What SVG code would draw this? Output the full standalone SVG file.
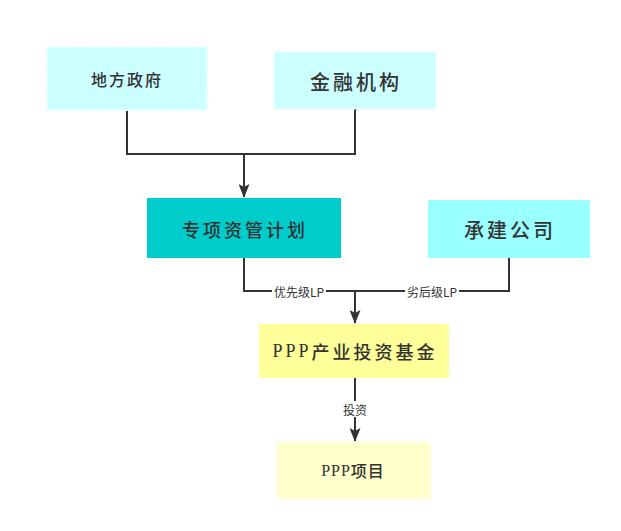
<svg xmlns="http://www.w3.org/2000/svg" width="621" height="531" viewBox="0 0 621 531">
<style>
.lbl{font-family:"Noto Sans CJK SC","Liberation Sans",sans-serif;font-weight:500;fill:#333;text-anchor:middle;dominant-baseline:central}
.ppp{font-family:"Liberation Serif","Noto Sans CJK SC",serif;font-weight:normal}
.edge{fill:none;stroke:#333;stroke-width:2}
.el{font-family:"Noto Sans CJK SC","Liberation Sans",sans-serif;font-size:12px;fill:#333;text-anchor:middle;dominant-baseline:central}
</style>
<defs>
<marker id="arr" viewBox="0 0 14 11" refX="13" refY="5.5" markerWidth="14" markerHeight="11" markerUnits="userSpaceOnUse" orient="auto">
<path d="M0,0 L14,5.5 L0,11 L3,5.5 Z" fill="#333"/>
</marker>
</defs>
<rect width="621" height="531" fill="#fff"/>
<g id="edges">
<path class="edge" d="M127,110 V154 H355 V109"/>
<path class="edge" d="M244,154 V197" marker-end="url(#arr)"/>
<path class="edge" d="M244,258 V291 H509 V258"/>
<path class="edge" d="M355,291 V323" marker-end="url(#arr)"/>
<path class="edge" d="M355,378 V441" marker-end="url(#arr)"/>
<rect x="272" y="283" width="54" height="16" fill="#fff"/>
<text class="el" x="299" y="291">优先级LP</text>
<rect x="405" y="283" width="54" height="16" fill="#fff"/>
<text class="el" x="432" y="291">劣后级LP</text>
<rect x="341" y="401" width="28" height="16" fill="#fff"/>
<text class="el" x="355" y="409">投资</text>
</g>
<g id="n1">
<rect x="47" y="47" width="160" height="63" fill="#ccffff" stroke="#eaffff" stroke-width="2" stroke-dasharray="6 4"/>
<text class="lbl" x="127" y="79" font-size="16" letter-spacing="2">地方政府</text>
</g>
<g id="n2">
<rect x="274" y="52" width="162" height="57" fill="#ccffff" stroke="#eaffff" stroke-width="1.5" stroke-dasharray="2 2"/>
<text class="lbl" x="356" y="81" font-size="20" letter-spacing="3">金融机构</text>
</g>
<g id="n3">
<rect x="147" y="198" width="194" height="60" fill="#00cccc"/>
<text class="lbl" x="245" y="229" font-size="18" letter-spacing="3">专项资管计划</text>
</g>
<g id="n4">
<rect x="428" y="200" width="162" height="58" fill="#99ffff"/>
<text class="lbl" x="510" y="229" font-size="20" letter-spacing="3">承建公司</text>
</g>
<g id="n5">
<rect x="259" y="324" width="190" height="54" fill="#ffff99"/>
<text class="lbl" x="355" y="351" font-size="18" letter-spacing="3"><tspan class="ppp">PPP</tspan>产业投资基金</text>
</g>
<g id="n6">
<rect x="277" y="442" width="154" height="57" fill="#ffffcc" stroke="#ffffe8" stroke-width="1.5" stroke-dasharray="2 2"/>
<text class="lbl" x="353" y="470" font-size="16" letter-spacing="1"><tspan class="ppp">PPP</tspan>项目</text>
</g>
</svg>
